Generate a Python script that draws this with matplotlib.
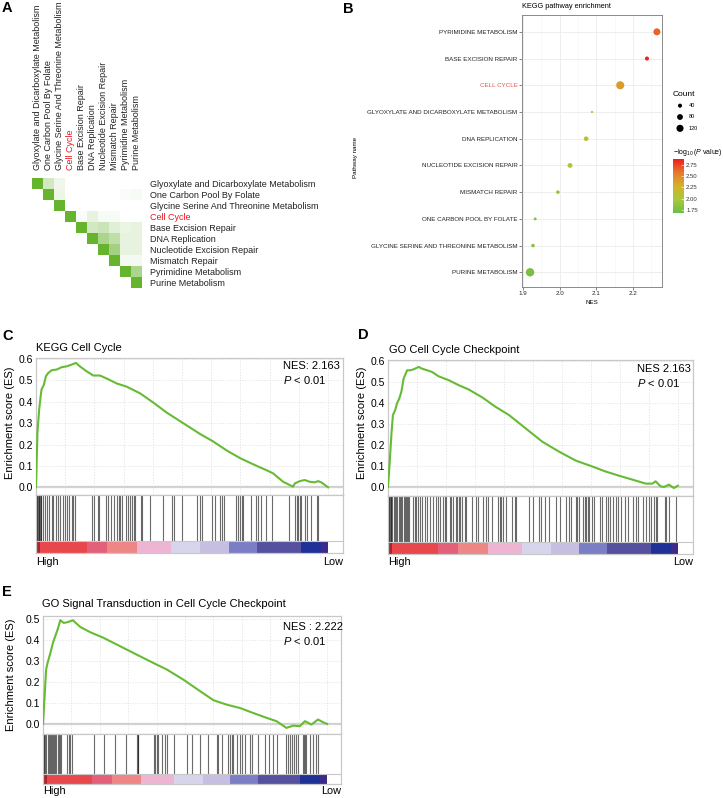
import numpy as np
import matplotlib
matplotlib.use('Agg')
import matplotlib.pyplot as plt
from matplotlib.colors import LinearSegmentedColormap

plt.rcParams['font.family'] = ['Liberation Sans', 'DejaVu Sans']
plt.rcParams['mathtext.fontset'] = 'custom'
plt.rcParams['mathtext.rm'] = 'Liberation Sans'
plt.rcParams['mathtext.it'] = 'Liberation Sans:italic'

# ---------------- Panel A data ----------------
pathways_a = ['Glyoxylate and Dicarboxylate Metabolism', 'One Carbon Pool By Folate',
              'Glycine Serine And Threonine Metabolism', 'Cell Cycle', 'Base Excision Repair',
              'DNA Replication', 'Nucleotide Excision Repair', 'Mismatch Repair',
              'Pyrimidine Metabolism', 'Purine Metabolism']
sim_a = [
    [1, .30, .10, 0, 0, 0, 0, 0, 0, 0],
    [0, 1, .12, 0, 0, 0, 0, 0, .03, .05],
    [0, 0, 1, 0, 0, 0, 0, 0, 0, 0],
    [0, 0, 0, 1, .03, .15, .05, .05, 0, 0],
    [0, 0, 0, 0, 1, .30, .35, .20, .13, .15],
    [0, 0, 0, 0, 0, 1, .55, .42, .15, .15],
    [0, 0, 0, 0, 0, 0, 1, .60, .15, .15],
    [0, 0, 0, 0, 0, 0, 0, 1, .07, .07],
    [0, 0, 0, 0, 0, 0, 0, 0, 1, .55],
    [0, 0, 0, 0, 0, 0, 0, 0, 0, 1],
]

# ---------------- Panel B data ----------------
pathways_b = ['PURINE METABOLISM', 'GLYCINE SERINE AND THREONINE METABOLISM',
              'ONE CARBON POOL BY FOLATE', 'MISMATCH REPAIR', 'NUCLEOTIDE EXCISION REPAIR',
              'DNA REPLICATION', 'GLYOXYLATE AND DICARBOXYLATE METABOLISM', 'CELL CYCLE',
              'BASE EXCISION REPAIR', 'PYRIMIDINE METABOLISM']
nes_b = [1.919, 1.927, 1.933, 1.995, 2.028, 2.072, 2.088, 2.165, 2.238, 2.265]
count_b = [165, 30, 20, 30, 55, 50, 12, 155, 40, 115]
logp_b = [1.75, 1.82, 1.80, 1.88, 2.02, 2.12, 2.05, 2.40, 2.85, 2.65]
legend_counts = [40, 80, 120]
cbar_ticks = [1.75, 2.00, 2.25, 2.50, 2.75]

# ---------------- GSEA data (rank in per-mille of gene list) ----------------
rank_c = [0, 5, 11, 16, 19, 27, 34, 42, 54, 71, 88, 105, 122, 137, 150, 173, 196, 219, 242, 276,
          310, 356, 401, 447, 504, 561, 606, 652, 698, 743, 789, 812, 846, 880, 886, 903, 920,
          937, 954, 966, 977, 1000]
es_c = [0, .258, .366, .427, .458, .48, .52, .535, .548, .551, .562, .566, .574, .582, .566, .543,
        .523, .523, .509, .486, .471, .44, .397, .35, .30, .25, .215, .173, .137, .108, .08, .065,
        .026, .003, .018, .029, .034, .026, .023, .029, .023, 0]
hits_c = [0, 2, 5, 7, 9, 11, 14, 16, 18, 25, 31, 37, 46, 54, 59, 69, 77, 82, 92, 100, 105, 114,
          122, 128, 134, 191, 197, 211, 217, 240, 248, 256, 268, 277, 283, 288, 294, 309, 314,
          323, 328, 334, 340, 359, 363, 389, 435, 466, 474, 500, 551, 563, 569, 603, 614, 629,
          637, 643, 686, 691, 698, 706, 709, 735, 752, 760, 769, 786, 809, 866, 886, 892, 897,
          904, 908, 920, 927, 943, 961, 967]

rank_d = [0, 5, 12, 17, 25, 31, 39, 46, 54, 66, 77, 89, 106, 117, 135, 152, 175, 209, 244, 279,
          325, 371, 417, 474, 532, 589, 647, 704, 750, 796, 843, 889, 912, 923, 940, 952, 969,
          986, 1000]
es_d = [0, .098, .256, .343, .367, .398, .422, .453, .517, .556, .556, .561, .572, .564, .556,
        .548, .527, .509, .485, .464, .427, .382, .343, .28, .216, .169, .126, .098, .074, .054,
        .035, .016, .016, .027, .003, 0, .011, -.005, .006]
hits_d = [0, 2, 4, 7, 9, 11, 14, 20, 23, 26, 30, 38, 41, 45, 48, 55, 59, 62, 66, 69, 72, 86, 92,
          98, 103, 109, 118, 126, 134, 144, 155, 164, 172, 180, 190, 195, 201, 213, 218, 224,
          233, 238, 245, 249, 256, 264, 270, 291, 302, 310, 327, 337, 345, 360, 379, 385, 391,
          396, 408, 429, 437, 442, 486, 500, 520, 529, 540, 557, 580, 592, 615, 624, 632, 647,
          651, 658, 672, 678, 684, 689, 695, 704, 709, 730, 739, 753, 758, 764, 776, 785, 793,
          804, 816, 827, 844, 854, 862, 879, 890, 900, 908, 916, 923, 927, 954, 959, 969, 994]

rank_e = [0, 5, 11, 16, 26, 35, 43, 52, 61, 73, 84, 96, 105, 131, 166, 213, 260, 330, 389, 436,
          494, 553, 600, 646, 693, 740, 787, 822, 857, 881, 904, 922, 945, 968, 986, 1000]
es_e = [0, .116, .259, .29, .338, .386, .417, .452, .494, .481, .484, .489, .494, .462, .437,
        .41, .378, .33, .29, .259, .211, .156, .113, .092, .076, .052, .029, .013, -.019, -.008,
        -.011, .013, -.003, .021, .008, 0]
hits_e = [2, 5, 8, 12, 16, 20, 23, 28, 32, 35, 40, 43, 47, 52, 55, 59, 63, 84, 90, 96, 102, 178,
          213, 254, 293, 330, 333, 336, 389, 395, 400, 406, 418, 430, 436, 461, 506, 523, 553,
          582, 611, 617, 629, 652, 658, 664, 670, 684, 693, 699, 711, 728, 734, 758, 781, 796,
          810, 822, 857, 863, 869, 875, 883, 892, 898, 916, 918, 922, 927, 939, 951, 960, 968]

# ranked-list colour strip (per-mille boundaries)
strip_bounds = [0, 14, 174, 243, 346, 462, 563, 660, 757, 906, 975, 1000]
strip_colors = ['#a8262b', '#e8474c', '#e3607a', '#ee8686', '#eeb5d3', '#d7d5ec', '#c6bfe1',
                '#7b7ec5', '#55519f', '#1f3196', '#3d2a8c']

# ---------------- figure ----------------
W, H = 723, 798
fig = plt.figure(figsize=(W / 100, H / 100), dpi=100)


def box(l, t, r, b):
    return [l / W, 1 - b / H, (r - l) / W, (b - t) / H]


def ftext(x, y, s, **kw):
    fig.text(x / W, 1 - y / H, s, **kw)


# Panel letters
for lab, (x, y) in zip('ABCDE', [(2, 8), (343, 9), (2, 336), (358, 335), (2, 592)]):
    ftext(x, y, lab, fontsize=10.5, fontweight='bold', ha='left', va='center')

# ---------------- Panel A ----------------
axA = fig.add_axes(box(32, 178, 142, 288))
cmap_a = LinearSegmentedColormap.from_list('g', ['#ffffff', '#66b32e'])
axA.imshow(np.array(sim_a), cmap=cmap_a, vmin=0, vmax=1, aspect='auto', interpolation='nearest')
n = len(pathways_a)
axA.set_xticks(range(n))
axA.set_yticks(range(n))
axA.xaxis.tick_top()
axA.yaxis.tick_right()
axA.set_xticklabels(pathways_a, rotation=90, fontsize=6.5, ha='center', va='bottom',
                    color='#222222')
axA.set_yticklabels(pathways_a, fontsize=6.5, color='#222222')
axA.tick_params(length=0, pad=6)
for sp in axA.spines.values():
    sp.set_visible(False)
for t in axA.get_xticklabels() + axA.get_yticklabels():
    if t.get_text() == 'Cell Cycle':
        t.set_color('#e8191f')

# ---------------- Panel B ----------------
axB = fig.add_axes(box(522, 15, 662, 287))
cmap_b = LinearSegmentedColormap.from_list('pv', ['#6abd45', '#a9c83a', '#d2b22a', '#e8782a', '#ed1c24'])
size_k = 0.22
sc = axB.scatter(nes_b, range(len(pathways_b)), s=np.array(count_b) * size_k, c=logp_b,
                 cmap=cmap_b, vmin=1.68, vmax=2.88, zorder=3, linewidths=0)
axB.set_xlim(1.897, 2.279)
axB.set_ylim(-0.55, 9.63)
axB.set_yticks(range(len(pathways_b)))
axB.set_yticklabels(pathways_b, fontsize=4.5, color='#222222')
axB.set_xticks([1.9, 2.0, 2.1, 2.2])
axB.set_xticklabels(['1.9', '2.0', '2.1', '2.2'], fontsize=4.5, color='#222222')
axB.set_xticks([1.95, 2.05, 2.15, 2.25], minor=True)
axB.tick_params(length=2, width=0.5, color='#555555', pad=1.2)
axB.tick_params(which='minor', length=0)
axB.grid(True, which='major', color='#ebebeb', lw=0.6, zorder=0)
axB.grid(True, which='minor', axis='x', color='#f4f4f4', lw=0.4, zorder=0)
axB.set_axisbelow(True)
for sp in axB.spines.values():
    sp.set_color('#8a8a8a')
    sp.set_linewidth(0.7)
for t in axB.get_yticklabels():
    if t.get_text() == 'CELL CYCLE':
        t.set_color('#e8524f')
ftext(522, 7, 'KEGG pathway enrichment', fontsize=5.3, ha='left', va='center')
ftext(592, 302, 'NES', fontsize=4.5, ha='center', va='center')
ftext(356, 157, 'Pathway name', fontsize=4.5, rotation=90, ha='center', va='center')

# size legend
ftext(673, 94, 'Count', fontsize=6, ha='left', va='center')
axL = fig.add_axes(box(672, 100, 720, 134))
axL.scatter([0] * len(legend_counts), range(len(legend_counts)),
            s=np.array(legend_counts) * size_k, color='black', linewidths=0)
for i, c in enumerate(legend_counts):
    axL.text(0.9, i, str(c), fontsize=4, va='center', ha='left')
axL.set_xlim(-0.8, 4)
axL.set_ylim(2.5, -0.5)
axL.axis('off')

# colour legend
ftext(673, 152, r'$-\log_{10}$($\it{P}$ value)', fontsize=5, ha='left', va='center')
cax = fig.add_axes(box(673, 159, 684, 213))
cb = fig.colorbar(sc, cax=cax, ticks=cbar_ticks)
cb.outline.set_visible(False)
cax.set_yticklabels([f'{v:.2f}' for v in cbar_ticks], fontsize=4.3, color='#333333')
cax.tick_params(length=2, width=0.4, color='white', pad=1.5, direction='in')

# ---------------- GSEA panels ----------------
GREEN = '#67bb34'
EDGE = '#c8c8c8'


def gsea(es_box, hit_box, strip_h, ranks, es, hits, xmax, ylim, yticks, title, title_xy,
         nes_txt, nes_xy, ylab_xy, hl_y):
    ax = fig.add_axes(box(*es_box))
    ax.axhline(0, color='#cfcfcf', lw=1.6, zorder=1)
    ax.plot(ranks, es, color=GREEN, lw=1.5, zorder=3)
    ax.set_xlim(0, xmax)
    ax.set_ylim(*ylim)
    ax.set_yticks(yticks)
    ax.set_yticklabels([f'{v:.1f}' for v in yticks], fontsize=7.5)
    ax.set_xticks(np.arange(0, xmax, 100))
    ax.set_xticklabels([])
    ax.grid(True, color='#dedede', lw=0.5, ls=(0, (2, 2)))
    ax.tick_params(length=0, pad=2)
    for sp in ax.spines.values():
        sp.set_color(EDGE)
        sp.set_linewidth(0.9)
    ftext(title_xy[0], title_xy[1], title, fontsize=8, ha='left', va='center')
    ftext(nes_xy[0], nes_xy[1], nes_txt, fontsize=8, ha='left', va='center')
    ftext(nes_xy[0], nes_xy[1] + 14, r'$\it{P}$ < 0.01', fontsize=8, ha='left', va='center')
    ftext(ylab_xy[0], ylab_xy[1], 'Enrichment score (ES)', fontsize=8, rotation=90,
          ha='center', va='center')

    hx = fig.add_axes(box(*hit_box))
    hx.set_xlim(0, xmax)
    hx.set_ylim(0, 1)
    f = strip_h / (hit_box[3] - hit_box[1])
    hx.vlines(hits, f, 1, color='#111111', lw=0.8, alpha=0.62)
    for a, b, c in zip(strip_bounds[:-1], strip_bounds[1:], strip_colors):
        hx.axvspan(a, b, 0, f, color=c, lw=0)
    hx.axhline(f, color=EDGE, lw=0.8)
    hx.set_xticks([])
    hx.set_yticks([])
    for sp in hx.spines.values():
        sp.set_color(EDGE)
        sp.set_linewidth(0.9)
    ftext(hit_box[0], hl_y, 'High', fontsize=7.8, ha='left', va='center')
    ftext(hit_box[2], hl_y, 'Low', fontsize=7.8, ha='right', va='center')


gsea((36, 358, 343, 495), (36, 495, 343, 553), 12, rank_c, es_c, hits_c, 1051,
     (-0.036, 0.605), [0, .1, .2, .3, .4, .5, .6], 'KEGG Cell Cycle', (36, 348),
     'NES: 2.163', (283, 366), (10, 423), 562)
gsea((388, 360, 693, 496), (388, 496, 693, 554), 12, rank_d, es_d, hits_d, 1052,
     (-0.043, 0.605), [0, .1, .2, .3, .4, .5, .6], 'GO Cell Cycle Checkpoint', (389, 350),
     'NES 2.163', (637, 369), (362, 423), 562)
gsea((43, 616, 341, 734), (43, 734, 341, 784), 10, rank_e, es_e, hits_e, 1049,
     (-0.048, 0.514), [0, .1, .2, .3, .4, .5], 'GO Signal Transduction in Cell Cycle Checkpoint',
     (42, 604), 'NES : 2.222', (283, 627), (11, 675), 791)

fig.savefig('out.png', dpi=100, facecolor='white')
